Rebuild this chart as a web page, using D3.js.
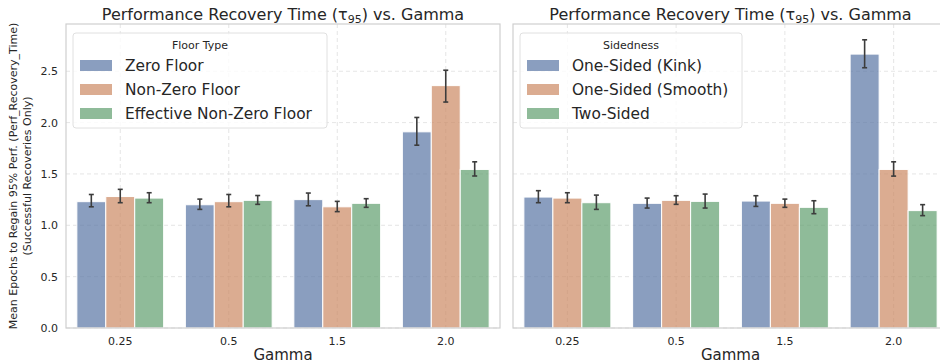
<!DOCTYPE html>
<meta charset="utf-8">
<style>
body { margin: 0; background: white; font-family: "DejaVu Sans", sans-serif; }
svg text { fill: #262626; }
.grid line { stroke: #dedede; stroke-dasharray: 4,3; stroke-width: 0.8; }
.spine { stroke: #cfcfcf; stroke-width: 1.2; fill: none; }
</style>
<body>
<div id="chart"></div>
<script src="https://cdnjs.cloudflare.com/ajax/libs/d3/7.8.5/d3.min.js"></script>
<script>

// data
var gammas = ["0.25", "0.5", "1.5", "2.0"];
var yTicks = [0, 0.5, 1.0, 1.5, 2.0, 2.5];

var floorTypes = ["Zero Floor", "Non-Zero Floor", "Effective Non-Zero Floor"];
var floorMeans = [
  [1.23, 1.20, 1.25, 1.91],
  [1.28, 1.23, 1.18, 2.36],
  [1.265, 1.243, 1.214, 1.544]
];
var floorLow = [
  [1.18, 1.155, 1.19, 1.78],
  [1.22, 1.18, 1.133, 2.20],
  [1.22, 1.204, 1.175, 1.48]
];
var floorHigh = [
  [1.30, 1.255, 1.314, 2.05],
  [1.35, 1.30, 1.233, 2.51],
  [1.317, 1.29, 1.259, 1.618]
];

var sideTypes = ["One-Sided (Kink)", "One-Sided (Smooth)", "Two-Sided"];
var sideMeans = [
  [1.275, 1.214, 1.236, 2.667],
  [1.265, 1.243, 1.214, 1.544],
  [1.22, 1.233, 1.175, 1.143]
];
var sideLow = [
  [1.22, 1.168, 1.184, 2.534],
  [1.22, 1.204, 1.175, 1.479],
  [1.155, 1.168, 1.113, 1.094]
];
var sideHigh = [
  [1.337, 1.265, 1.288, 2.806],
  [1.317, 1.288, 1.255, 1.618],
  [1.294, 1.304, 1.239, 1.201]
];

var colors = ["#5975a4", "#cc8963", "#5f9e6e"];

var width = 940, height = 364;
var plotTop = 24, plotBottom = 328;

var svg = d3.select("#chart").append("svg")
  .attr("width", width)
  .attr("height", height);

var y = d3.scaleLinear().domain([0, 2.96]).range([plotBottom, plotTop]);

function panel(x0, x1, groups, means, low, high, legendTitle, legendW, showY) {
  var g = svg.append("g");

  var x = d3.scaleBand().domain(gammas).range([x0, x1]);
  var inner = d3.scaleBand().domain(d3.range(groups.length))
    .range([0, x.bandwidth() * 0.8]);
  var off = x.bandwidth() * 0.1;

  // grid
  var grid = g.append("g").attr("class", "grid");
  grid.selectAll(".h").data(yTicks).enter().append("line")
    .attr("x1", x0).attr("x2", x1)
    .attr("y1", d => y(d)).attr("y2", d => y(d));
  grid.selectAll(".v").data(gammas).enter().append("line")
    .attr("x1", d => x(d) + x.bandwidth() / 2).attr("x2", d => x(d) + x.bandwidth() / 2)
    .attr("y1", plotTop).attr("y2", plotBottom);

  // bars
  groups.forEach(function(name, i) {
    g.append("g").selectAll("rect").data(gammas).enter().append("rect")
      .attr("x", d => x(d) + off + inner(i))
      .attr("width", inner.bandwidth())
      .attr("y", (d, j) => y(means[i][j]))
      .attr("height", (d, j) => y(0) - y(means[i][j]))
      .attr("fill", colors[i])
      .attr("fill-opacity", 0.7)
      .attr("stroke", "white")
      .attr("stroke-width", 1);

    var eb = g.append("g").attr("stroke", "#3c3c3c").attr("stroke-width", 1.6);
    gammas.forEach(function(d, j) {
      var cx = x(d) + off + inner(i) + inner.bandwidth() / 2;
      eb.append("line").attr("x1", cx).attr("x2", cx)
        .attr("y1", y(low[i][j])).attr("y2", y(high[i][j]));
      eb.append("line").attr("x1", cx - 2.5).attr("x2", cx + 2.5)
        .attr("y1", y(low[i][j])).attr("y2", y(low[i][j]));
      eb.append("line").attr("x1", cx - 2.5).attr("x2", cx + 2.5)
        .attr("y1", y(high[i][j])).attr("y2", y(high[i][j]));
    });
  });

  // spines
  g.append("rect").attr("class", "spine")
    .attr("x", x0).attr("y", plotTop).attr("width", x1 - x0).attr("height", plotBottom - plotTop);

  // x ticks
  g.selectAll(".xt").data(gammas).enter().append("text")
    .attr("x", d => x(d) + x.bandwidth() / 2)
    .attr("y", 345)
    .attr("text-anchor", "middle")
    .style("font-size", "11px")
    .text(d => d);

  g.append("text")
    .attr("x", (x0 + x1) / 2).attr("y", 360)
    .attr("text-anchor", "middle")
    .style("font-size", "15px")
    .text("Gamma");

  if (showY) {
    g.selectAll(".yt").data(yTicks).enter().append("text")
      .attr("x", 58).attr("y", d => y(d) + 4)
      .attr("text-anchor", "end")
      .style("font-size", "11px")
      .text(d => d.toFixed(1));

    var yl = g.append("text")
      .attr("transform", "translate(17," + ((plotTop + plotBottom) / 2) + ") rotate(-90)")
      .attr("text-anchor", "middle")
      .style("font-size", "11px");
    yl.append("tspan").attr("x", 0).attr("dy", 0)
      .text("Mean Epochs to Regain 95% Perf. (Perf_Recovery_Time)");
    yl.append("tspan").attr("x", 0).attr("dy", 14)
      .text("(Successful Recoveries Only)");
  }

  // title
  var t = g.append("text")
    .attr("x", (x0 + x1) / 2).attr("y", 20)
    .attr("text-anchor", "middle")
    .style("font-size", "16px");
  t.append("tspan").text("Performance Recovery Time (\u03c4");
  t.append("tspan").attr("dy", 3).style("font-size", "11px").text("95");
  t.append("tspan").attr("dy", -3).text(") vs. Gamma");

  // legend
  var lx = x0 + 7, ly = 33;
  var lg = g.append("g").attr("transform", "translate(" + lx + "," + ly + ")");
  lg.append("rect")
    .attr("width", legendW).attr("height", 95)
    .attr("rx", 3)
    .attr("fill", "white").attr("fill-opacity", 0.8)
    .attr("stroke", "#e0e0e0");
  lg.append("text")
    .attr("x", legendW / 2).attr("y", 16)
    .attr("text-anchor", "middle")
    .style("font-size", "11px")
    .text(legendTitle);
  groups.forEach(function(name, i) {
    lg.append("rect")
      .attr("x", 7).attr("y", 27 + i * 24)
      .attr("width", 32).attr("height", 11)
      .attr("fill", colors[i]).attr("fill-opacity", 0.7);
    lg.append("text")
      .attr("x", 52).attr("y", 38 + i * 24)
      .style("font-size", "15.4px")
      .text(name);
  });
}

panel(66, 500, floorTypes, floorMeans, floorLow, floorHigh, "Floor Type", 254, true);
panel(513, 948, sideTypes, sideMeans, sideLow, sideHigh, "Sidedness", 222, false);

</script>
</body>
